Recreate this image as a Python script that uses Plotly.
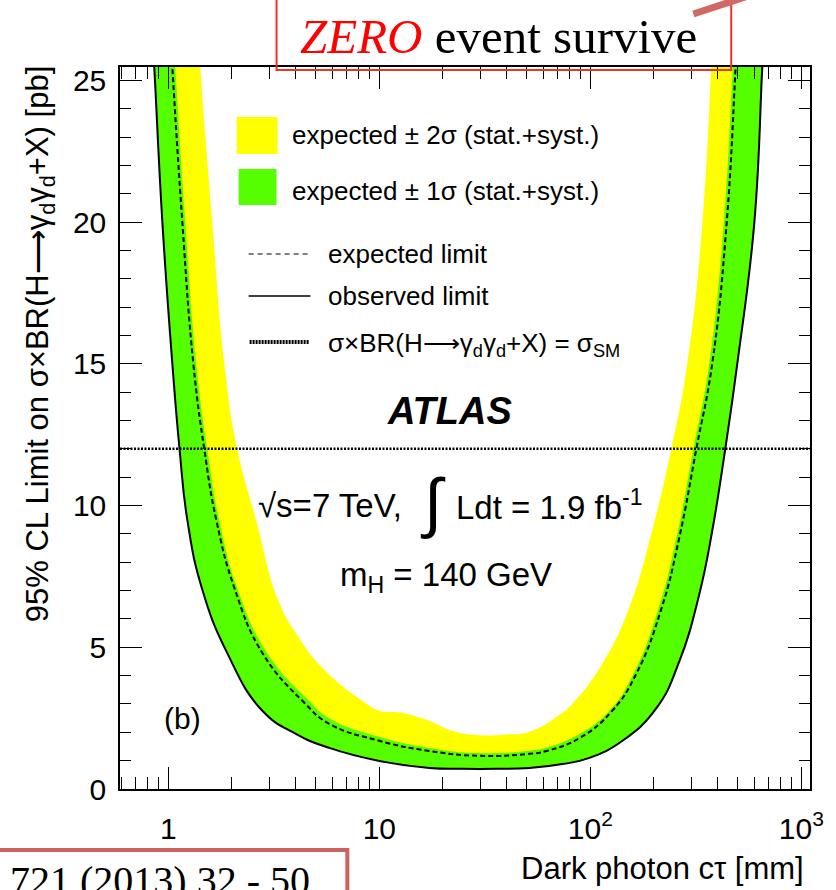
import plotly.graph_objects as go

# ---- limit curves: dark photon c*tau [mm] vs 95% CL limit [pb] ----
ct_obs = [0.84, 0.858, 0.937, 1.045, 1.13, 1.23, 1.44, 1.90, 2.79, 4.04, 5.79, 10.0,
          17.3, 24.7, 35.8, 51.4, 73.7, 99.0, 142, 206, 264, 329, 378, 436, 497, 599,
          653, 668]
lim_obs = [26.6, 25.45, 20.0, 15.0, 12.0, 9.5, 7.1, 4.8, 2.76, 1.94, 1.45, 0.99,
           0.74, 0.71, 0.71, 0.74, 0.88, 1.10, 1.70, 2.86, 4.5, 6.9, 9.1, 12.0, 15.0, 20.0,
           25.45, 26.6]

ct_exp = [1.02, 1.045, 1.165, 1.314, 1.48, 1.69, 2.055, 2.79, 4.4, 5.79, 10.0, 17.3,
          29.8, 51.4, 62, 89, 127, 165, 218, 264, 318, 378, 443, 488, 500]
lim_exp = [26.8, 25.45, 20.0, 15.0, 12.0, 9.47, 7.1, 4.8, 3.05, 2.30, 1.70, 1.34,
           1.17, 1.24, 1.34, 1.80, 2.76, 4.06, 6.40, 8.87, 12.0, 15.0, 20.0, 25.45, 26.9]

# +1 sigma edge of the expected band
ct_p1s = [1.05, 1.079, 1.204, 1.357, 1.53, 1.745, 2.12, 2.94, 4.6, 5.79, 10.0, 17.3,
          29.8, 51.4, 62, 89, 123, 160, 211, 256, 308, 366, 429, 473, 485]
lim_p1s = [26.8, 25.45, 20.0, 15.0, 12.0, 9.47, 7.1, 4.8, 3.15, 2.50, 1.84, 1.45,
           1.27, 1.35, 1.46, 1.95, 2.76, 4.06, 6.40, 8.87, 12.0, 15.0, 20.0, 25.45, 26.9]

# +2 sigma edge of the expected band
ct_p2s = [1.39, 1.418, 1.616, 1.843, 2.12, 2.61, 3.3, 4.04, 5.37, 8.3, 10.0, 12.8,
          17.3, 22.2, 30, 40, 51.4, 73.7, 82, 114, 153, 196, 242, 288, 340, 374, 382]
lim_p2s = [26.8, 25.45, 20.0, 15.0, 12.0, 9.47, 6.7, 5.48, 4.28, 3.11, 2.76, 2.69,
           2.40, 2.05, 1.90, 1.92, 2.02, 2.69, 3.0, 4.42, 6.40, 9.1, 12.0, 15.0, 20.0,
           25.45, 26.8]

# the -1/-2 sigma edges run along the observed limit (zero events observed)
sigma_sm = 12.0  # sigma x BR(H -> gd gd + X) = sigma_SM [pb]

x_tickvals = [1, 10, 100, 1000]
x_ticktext = ["1", "10", "10<sup>2</sup>", "10<sup>3</sup>"]
x_minor = [m * 10 ** e for e in (-1, 0, 1, 2) for m in range(2, 10) if 0.59 <= m * 10 ** e <= 1100]

# ---- page geometry (pixels) ----
W, H = 836, 890
L, R, T, B = 120, 812, 67, 789


def fx(px):
    return (px - L) / (R - L)


def fy(py):
    return (B - py) / (B - T)


YELLOW = "#ffff00"
GREEN = "#55ff00"
SANS = "Liberation Sans"
SERIF = "Liberation Serif"
SMOOTH = 1.3

fig = go.Figure()

# yellow band: +2 sigma down to the observed limit
fig.add_trace(go.Scatter(
    x=ct_p2s + ct_obs[::-1], y=lim_p2s + lim_obs[::-1],
    fill="toself", fillcolor=YELLOW, mode="lines",
    line=dict(width=0, shape="spline", smoothing=SMOOTH), hoverinfo="skip"))
# green band: +1 sigma down to the observed limit
fig.add_trace(go.Scatter(
    x=ct_p1s + ct_obs[::-1], y=lim_p1s + lim_obs[::-1],
    fill="toself", fillcolor=GREEN, mode="lines",
    line=dict(width=0, shape="spline", smoothing=SMOOTH), hoverinfo="skip"))
# expected limit
fig.add_trace(go.Scatter(
    x=ct_exp, y=lim_exp, mode="lines",
    line=dict(color="black", width=2, dash="5px,3px", shape="spline", smoothing=SMOOTH)))
# observed limit
fig.add_trace(go.Scatter(
    x=ct_obs, y=lim_obs, mode="lines",
    line=dict(color="black", width=2, shape="spline", smoothing=SMOOTH)))

shapes = []
# SM cross-section line
shapes.append(dict(type="line", xref="x domain", yref="y", x0=0, x1=1,
                   y0=sigma_sm, y1=sigma_sm,
                   line=dict(color="black", width=2.5, dash="2px,1.5px")))

# legend swatches
shapes.append(dict(type="rect", xref="paper", yref="paper",
                   x0=fx(237), x1=fx(278), y0=fy(154), y1=fy(117),
                   fillcolor=YELLOW, line=dict(width=0)))
shapes.append(dict(type="rect", xref="paper", yref="paper",
                   x0=fx(239), x1=fx(277), y0=fy(205), y1=fy(169),
                   fillcolor=GREEN, line=dict(width=0)))
shapes.append(dict(type="line", xref="paper", yref="paper",
                   x0=fx(249), x1=fx(311), y0=fy(254), y1=fy(254),
                   line=dict(color="black", width=1.2, dash="5px,4px")))
shapes.append(dict(type="line", xref="paper", yref="paper",
                   x0=fx(249), x1=fx(311), y0=fy(296), y1=fy(296),
                   line=dict(color="black", width=1.4)))
shapes.append(dict(type="line", xref="paper", yref="paper",
                   x0=fx(250), x1=fx(310), y0=fy(342), y1=fy(342),
                   line=dict(color="black", width=4, dash="2px,1px")))

# headline box and pointer
shapes.append(dict(type="rect", xref="paper", yref="paper", layer="above",
                   x0=fx(277), x1=fx(733), y0=fy(70), y1=fy(-10),
                   line=dict(color="#ee3322", width=2)))
shapes.append(dict(type="line", xref="paper", yref="paper", layer="above",
                   x0=fx(695), x1=fx(750), y0=fy(14), y1=fy(-4),
                   line=dict(color="#d16a66", width=7)))
# reference box
shapes.append(dict(type="rect", xref="paper", yref="paper", layer="above",
                   x0=fx(-10), x1=fx(348), y0=fy(905), y1=fy(850),
                   line=dict(color="#cd625d", width=4)))

annotations = []


def note(px, py, text, size, xanchor="center", yanchor="middle", font=SANS,
         color="black", angle=0):
    annotations.append(dict(xref="paper", yref="paper", x=fx(px), y=fy(py),
                            text=text, showarrow=False, xanchor=xanchor,
                            yanchor=yanchor, textangle=angle,
                            font=dict(family=font, size=size, color=color)))


ARROW = "⟶"

# legend entries
note(290, 135, "expected ± 2σ (stat.+syst.)", 26, xanchor="left")
note(290, 191, "expected ± 1σ (stat.+syst.)", 26, xanchor="left")
note(327, 254, "expected limit", 26, xanchor="left")
note(327, 296, "observed limit", 26, xanchor="left")
note(327, 344, "σ×BR(H" + ARROW + "γ<sub>d</sub>γ<sub>d</sub>+X) = σ<sub>SM</sub>", 26,
     xanchor="left")

# experiment labels
note(450, 411, "<b><i>ATLAS</i></b>", 38)
note(405, 505, "√s=7 TeV,", 33, xanchor="right")
note(434, 502, "∫", 66)
note(455, 505, "Ldt = 1.9 fb<sup>-1</sup>", 33, xanchor="left")
note(447, 577, "m<sub>H</sub> = 140 GeV", 33)
note(183, 718, "(b)", 30)

# axis titles
note(808, 868, "Dark photon cτ [mm]", 31, xanchor="right")
note(40, 64, "95% CL Limit on σ×BR(H" + ARROW + "γ<sub>d</sub>γ<sub>d</sub>+X) [pb]", 31,
     yanchor="top", angle=-90)

# headline and reference texts
note(500, 36, "<span style='color:#ff0000'><i>ZERO</i></span> event survive", 49, font=SERIF)
note(8, 856, "721 (2013) 32 - 50", 40, xanchor="left", yanchor="top", font=SERIF)

axis_common = dict(showline=True, linecolor="black", linewidth=1.5, mirror="ticks",
                   ticks="inside", tickcolor="black", tickwidth=1.2, ticklen=22,
                   showgrid=False, zeroline=False,
                   tickfont=dict(family=SANS, size=30, color="black"))

fig.update_layout(
    width=W, height=H,
    margin=dict(l=L, r=W - R, t=T, b=H - B),
    paper_bgcolor="white", plot_bgcolor="white",
    showlegend=False,
    xaxis=dict(type="log", range=[-0.229, 3.041],
               tickmode="array", tickvals=x_tickvals, ticktext=x_ticktext,
               ticklabelstandoff=12,
               minor=dict(tickmode="array", tickvals=x_minor, ticks="inside",
                          ticklen=12, tickcolor="black", tickwidth=1.2, showgrid=False),
               **axis_common),
    yaxis=dict(range=[0, 25.47], tickmode="linear", tick0=0, dtick=5,
               ticklabelstandoff=6,
               minor=dict(dtick=1, ticks="inside", ticklen=11, tickcolor="black",
                          tickwidth=1.2, showgrid=False),
               **axis_common),
    shapes=shapes,
    annotations=annotations,
)

fig.write_html("out.html")
